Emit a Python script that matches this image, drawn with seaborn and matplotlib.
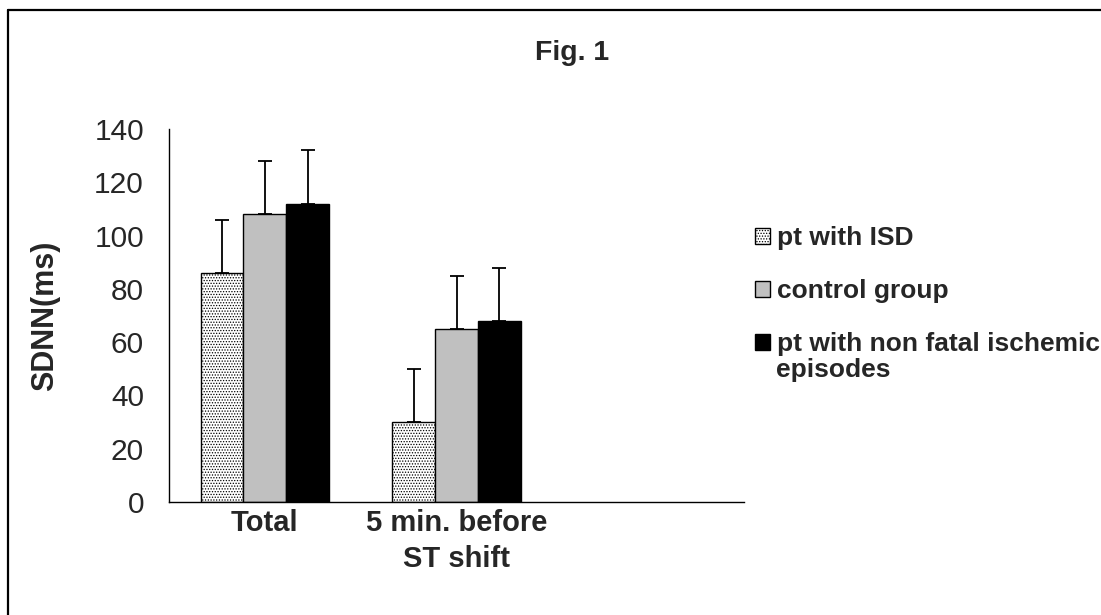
import matplotlib
matplotlib.use("Agg")
import matplotlib.pyplot as plt
import pandas as pd
import seaborn as sns
from matplotlib.lines import Line2D

# data (SDNN in ms, error bars = +1 SD)
periods = ["Total", "5 min. before\nST shift"]
groups = ["pt with ISD", "control group", "pt with non fatal ischemic episodes"]
isd_mean = [86, 30]
control_mean = [108, 65]
nonfatal_mean = [112, 68]
isd_sd = [20, 20]
control_sd = [20, 20]
nonfatal_sd = [20, 20]
yticks = [0, 20, 40, 60, 80, 100, 120, 140]

means = [isd_mean, control_mean, nonfatal_mean]
sds = [isd_sd, control_sd, nonfatal_sd]
rows = []
for g, m in zip(groups, means):
    for p, v in zip(periods, m):
        rows.append({"period": p, "group": g, "sdnn": v})
df = pd.DataFrame(rows)

sns.set_style("white")
plt.rcParams['font.family'] = ['Liberation Sans', 'DejaVu Sans']
plt.rcParams['hatch.color'] = '#808080'
plt.rcParams['hatch.linewidth'] = 0.6

fig = plt.figure(figsize=(11.01, 6.15), dpi=100)
ax = fig.add_axes([169 / 1101, 113 / 615, 575 / 1101, 373 / 615])

sns.barplot(data=df, x="period", y="sdnn", hue="group", order=periods,
            hue_order=groups, palette=["white", "#c0c0c0", "black"],
            width=0.67, errorbar=None, edgecolor="black", linewidth=1,
            legend=False, ax=ax)

# dotted fill for the ISD group
for bar in ax.containers[0]:
    bar.set_hatch("......")

# upper-only error bars
for cont, sd in zip(ax.containers, sds):
    for bar, s in zip(cont, sd):
        x = bar.get_x() + bar.get_width() / 2
        ax.errorbar(x, bar.get_height(), yerr=[[0], [s]], fmt="none",
                    ecolor="black", elinewidth=1.3, capsize=5, capthick=1.3)

ax.set_xlim(-0.5, 2.5)
ax.set_ylim(0, 140)
ax.set_yticks(yticks)
ax.set_xticks([-0.5, 0.5, 1.5, 2.5], minor=True)
ax.tick_params(axis="x", which="major", length=0, pad=5, labelsize=21)
ax.tick_params(axis="x", which="minor", length=6, width=1, direction="out", color="black")
ax.tick_params(axis="y", length=7, width=1, direction="out", color="black", labelsize=21.5, pad=11)
for lab in ax.get_xticklabels():
    lab.set_fontweight("bold")
    lab.set_linespacing(1.38)
ax.set_xlabel("")
ax.set_ylabel("SDNN(ms)", fontsize=22, fontweight="bold")
ax.yaxis.set_label_coords(-0.19, 0.5)
sns.despine(ax=ax)
for s in ["left", "bottom"]:
    ax.spines[s].set_color("black")
    ax.spines[s].set_linewidth(1)

fig.text(572 / 1101, 1 - 53 / 615, "Fig. 1", ha="center", va="center",
         fontsize=20.5, fontweight="bold")

# legend; the long label wraps onto a second line like in the original
leg_labels = ["pt with ISD", "control group", "pt with non fatal ischemic"]
leg = ax.legend(handles=ax.containers, labels=leg_labels, loc="upper left",
                bbox_to_anchor=(755 / 1101, 1 - 226 / 615), bbox_transform=fig.transFigure,
                frameon=False, borderpad=0, borderaxespad=0, handlelength=0.55,
                handleheight=0.55, handletextpad=0.27, labelspacing=1.1,
                prop={"size": 19, "weight": "bold"})
fig.text(776 / 1101, 1 - 370 / 615, "episodes", ha="left", va="center",
         fontsize=19, fontweight="bold")

# chart area border (only left and top visible)
fig.add_artist(Line2D([8 / 1101, 8 / 1101], [0, 1 - 10 / 615], transform=fig.transFigure,
                      color="black", lw=1.6))
fig.add_artist(Line2D([8 / 1101, 1], [1 - 10 / 615, 1 - 10 / 615], transform=fig.transFigure,
                      color="black", lw=1.6))

fig.savefig("out.png", dpi=100)
